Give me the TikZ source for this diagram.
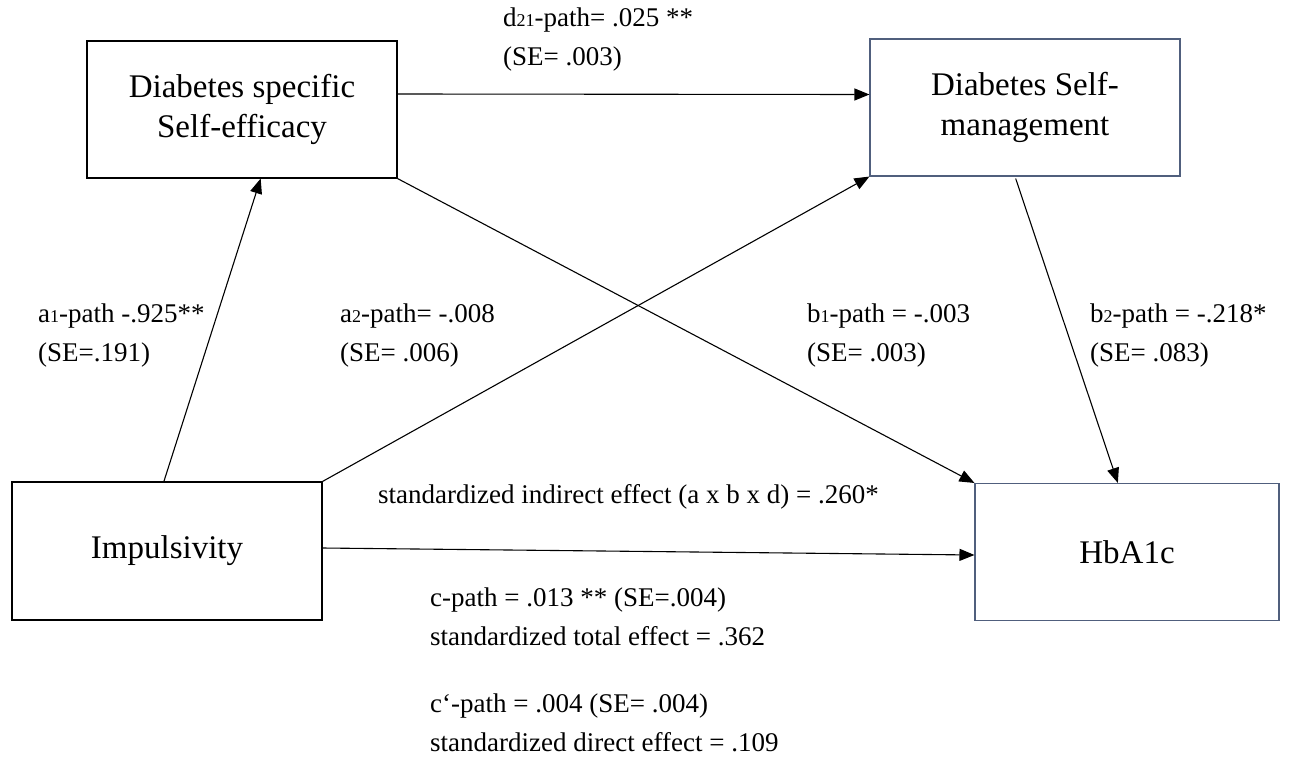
\documentclass[tikz,border=0pt]{standalone}
\usepackage{fontspec}
\setmainfont{Liberation Serif}
\usetikzlibrary{arrows.meta,calc}
\newcommand{\sm}[1]{{\fontsize{18}{18}\selectfont #1}}
\begin{document}
\begin{tikzpicture}[x=1pt,y=-1pt,
  box/.style={draw=black,line width=1.1pt,rectangle,inner sep=0pt,align=center,
    font=\fontsize{33}{40}\selectfont},
  bluebox/.style={box,draw={rgb,255:red,80;green,95;blue,125}},
  lab/.style={anchor=west,align=left,inner sep=0pt,font=\fontsize{27}{39}\selectfont},
  arr/.style={line width=1.1pt,-{Triangle[length=15pt,width=12pt]}}]
\useasboundingbox (0,0) rectangle (1290,763);
\node[box,minimum width=310pt,minimum height=137pt] (se) at (242,109.5) {Diabetes specific\\Self-efficacy};
\node[bluebox,minimum width=310pt,minimum height=137pt] (sm) at (1025,107.5) {Diabetes Self-\\management};
\node[box,minimum width=310pt,minimum height=138pt] (imp) at (167,551) {Impulsivity};
\node[bluebox,minimum width=304pt,minimum height=137pt] (hb) at (1127,552) {HbA1c};
% connectors
\draw[arr] ([yshift=15.5pt]se.east) -- ([yshift=13pt]sm.west);
\draw[arr] ($(imp.north west)!0.49!(imp.north east)$) -- ($(se.south west)!0.56!(se.south east)$);
\draw[arr] (imp.north east) -- (sm.south west);
\draw[arr] (se.south east) -- (hb.north west);
\draw[arr] ($(sm.south west)!0.47!(sm.south east)+(0,2)$) -- ($(hb.north west)!0.47!(hb.north east)$);
\draw[arr] ([yshift=3pt]imp.east) -- ([yshift=-3pt]hb.west);
% labels
\node[lab] (ld) at (503,40) {d\sm{21}-path= .025 **\\(SE= .003)};
\node[lab] (la1) at (38,336) {a\sm{1}-path -.925**\\(SE=.191)};
\node[lab] (la2) at (340,336) {a\sm{2}-path= -.008\\(SE= .006)};
\node[lab] (lb1) at (807,336) {b\sm{1}-path = -.003\\(SE= .003)};
\node[lab] (lb2) at (1090,336) {b\sm{2}-path = -.218*\\(SE= .083)};
\node[lab] (lind) at (378,497) {standardized indirect effect (a x b x d) = .260*};
\node[lab] (lc) at (430,617) {c-path = .013 ** (SE=.004)\\standardized total effect = .362};
\node[lab] (lcp) at (430,723) {c‘-path = .004 (SE= .004)\\standardized direct effect = .109};
\end{tikzpicture}
\end{document}
